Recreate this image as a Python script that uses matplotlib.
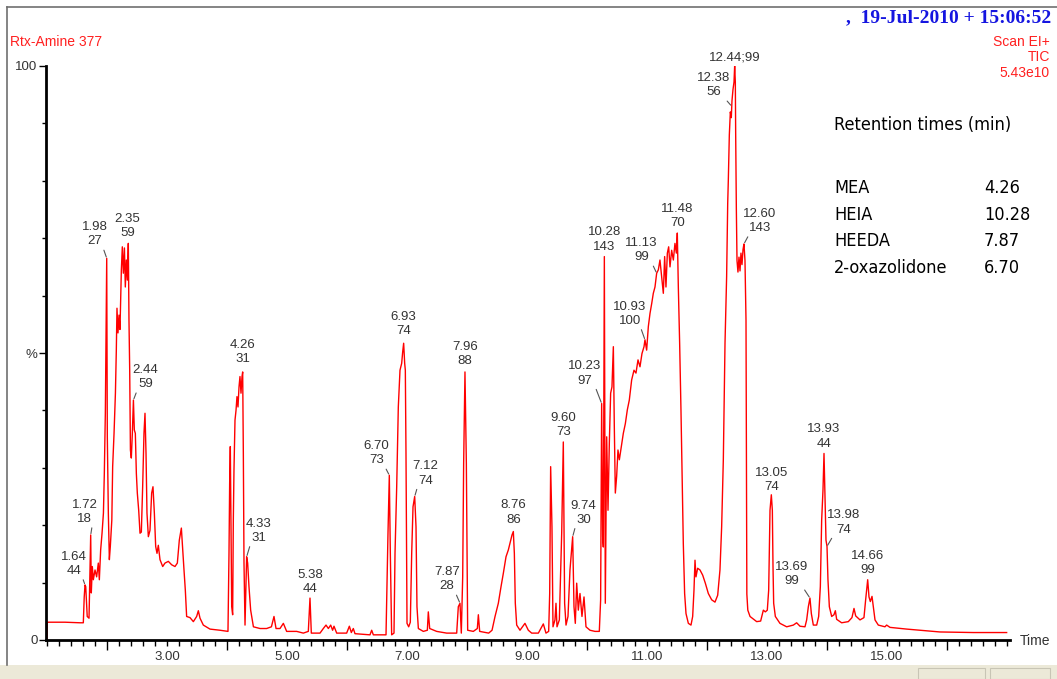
import matplotlib
matplotlib.use('Agg')
import matplotlib.pyplot as plt
from matplotlib import font_manager as fm
from matplotlib.ticker import MultipleLocator, FuncFormatter, NullFormatter, FixedLocator
from matplotlib.patches import Rectangle
from matplotlib.lines import Line2D

plt.rcParams['font.family'] = ['Liberation Sans', 'DejaVu Sans']

# TIC trace (time in min, relative abundance in %)
time_min = [
    1.00, 1.005, 1.30, 1.55, 1.605, 1.62, 1.633, 1.645, 1.67, 1.70, 1.717, 1.728, 1.738, 1.755,
    1.772, 1.80, 1.827, 1.855, 1.872, 1.894, 1.917, 1.94, 1.955, 1.972, 1.983, 1.995, 2.005,
    2.022, 2.039, 2.055, 2.08, 2.094, 2.117, 2.14, 2.155, 2.166, 2.183, 2.20, 2.216, 2.239,
    2.255, 2.272, 2.29, 2.305, 2.322, 2.339, 2.355, 2.366, 2.378, 2.39, 2.405, 2.422, 2.44,
    2.455, 2.472, 2.489, 2.505, 2.528, 2.55, 2.572, 2.594, 2.616, 2.633, 2.65, 2.666, 2.689,
    2.716, 2.744, 2.766, 2.789, 2.811, 2.833, 2.855, 2.883, 2.928, 2.966, 3.022, 3.078, 3.133,
    3.172, 3.205, 3.239, 3.261, 3.283, 3.305, 3.327, 3.383, 3.439, 3.494, 3.522, 3.55, 3.605,
    3.716, 3.883, 4.016, 4.033, 4.044, 4.055, 4.066, 4.078, 4.094, 4.105, 4.116, 4.133, 4.15,
    4.166, 4.183, 4.20, 4.216, 4.233, 4.25, 4.261, 4.272, 4.283, 4.30, 4.316, 4.327, 4.344,
    4.366, 4.394, 4.44, 4.55, 4.66, 4.74, 4.783, 4.817, 4.883, 4.939, 4.994, 5.161, 5.272,
    5.355, 5.383, 5.405, 5.55, 5.605, 5.65, 5.689, 5.728, 5.76, 5.783, 5.828, 5.994, 6.039,
    6.072, 6.105, 6.133, 6.383, 6.411, 6.439, 6.65, 6.683, 6.705, 6.722, 6.744, 6.783, 6.80,
    6.828, 6.855, 6.883, 6.911, 6.928, 6.944, 6.961, 6.972, 6.983, 7.00, 7.028, 7.055, 7.078,
    7.10, 7.128, 7.15, 7.166, 7.189, 7.272, 7.339, 7.355, 7.378, 7.494, 7.661, 7.828, 7.855,
    7.883, 7.905, 7.928, 7.944, 7.966, 7.989, 8.011, 8.105, 8.172, 8.189, 8.211, 8.361, 8.417,
    8.467, 8.522, 8.567, 8.605, 8.65, 8.689, 8.728, 8.75, 8.772, 8.789, 8.805, 8.828, 8.883,
    8.966, 9.022, 9.078, 9.189, 9.272, 9.316, 9.361, 9.378, 9.394, 9.416, 9.433, 9.466, 9.483,
    9.50, 9.539, 9.578, 9.605, 9.627, 9.65, 9.683, 9.716, 9.739, 9.761, 9.783, 9.805, 9.828,
    9.855, 9.883, 9.916, 9.95, 9.983, 10.05, 10.133, 10.205, 10.227, 10.244, 10.261, 10.272,
    10.289, 10.305, 10.328, 10.35, 10.372, 10.394, 10.416, 10.439, 10.455, 10.472, 10.494,
    10.516, 10.539, 10.572, 10.605, 10.639, 10.672, 10.705, 10.744, 10.783, 10.816, 10.85,
    10.883, 10.916, 10.95, 10.966, 10.994, 11.022, 11.05, 11.078, 11.105, 11.133, 11.161,
    11.189, 11.216, 11.244, 11.272, 11.294, 11.316, 11.339, 11.361, 11.383, 11.411, 11.439,
    11.466, 11.489, 11.505, 11.522, 11.544, 11.566, 11.583, 11.605, 11.627, 11.65, 11.689,
    11.733, 11.761, 11.783, 11.80, 11.816, 11.844, 11.883, 11.928, 11.972, 12.022, 12.078,
    12.133, 12.178, 12.216, 12.244, 12.272, 12.30, 12.327, 12.345, 12.355, 12.372, 12.389,
    12.405, 12.416, 12.433, 12.45, 12.461, 12.472, 12.478, 12.489, 12.50, 12.516, 12.533,
    12.55, 12.566, 12.583, 12.60, 12.616, 12.633, 12.65, 12.657, 12.664, 12.68, 12.717,
    12.828, 12.894, 12.939, 12.972, 13.005, 13.028, 13.05, 13.072, 13.089, 13.10, 13.111,
    13.139, 13.216, 13.328, 13.439, 13.494, 13.55, 13.633, 13.661, 13.689, 13.716, 13.739,
    13.772, 13.828, 13.861, 13.889, 13.911, 13.933, 13.95, 13.966, 13.983, 14.00, 14.016,
    14.039, 14.078, 14.116, 14.139, 14.161, 14.244, 14.355, 14.416, 14.45, 14.478, 14.55,
    14.616, 14.644, 14.678, 14.70, 14.722, 14.75, 14.772, 14.80, 14.855, 14.966, 14.994,
    15.05, 15.328, 15.661, 15.883, 16.439, 16.994,
]
abundance = [
    0.0, 3.1, 3.1, 3.0, 3.0, 7.5, 9.6, 9.3, 4.1, 3.8, 12.2, 18.3, 8.2, 12.8,
    10.5, 12.2, 11.0, 13.4, 10.5, 15.7, 18.6, 22.1, 29.0, 39.5, 52.8, 66.5, 35.4,
    22.1, 14.0, 16.3, 20.9, 30.2, 36.0, 43.0, 50.5, 57.8, 53.5, 56.6, 54.1, 64.5,
    68.5, 63.9, 68.3, 61.5, 66.2, 62.7, 69.1, 55.7, 47.0, 33.1, 31.7, 36.0, 41.8,
    36.6, 36.0, 29.0, 25.6, 22.6, 18.6, 18.8, 26.7, 36.0, 39.5, 32.5, 22.1, 18.0,
    19.1, 25.6, 26.7, 22.1, 16.3, 15.1, 16.5, 14.0, 12.8, 13.4, 13.7, 13.1, 12.8,
    13.4, 17.4, 19.5, 15.7, 12.2, 8.7, 4.1, 3.9, 3.2, 4.1, 5.1, 3.8, 2.6,
    1.9, 1.7, 1.5, 15.1, 27.3, 33.7, 20.9, 5.8, 4.4, 20.9, 29.6, 38.3, 40.0,
    42.4, 40.6, 44.1, 45.9, 43.0, 45.9, 46.7, 32.5, 13.4, 2.6, 9.3, 14.5, 13.4,
    9.3, 5.2, 2.3, 2.0, 2.0, 2.3, 4.1, 2.0, 2.0, 2.9, 1.5, 1.5, 1.2,
    1.5, 7.3, 1.2, 1.2, 2.0, 2.6, 2.0, 2.6, 1.7, 2.4, 1.2, 1.2, 2.4,
    1.3, 2.0, 1.1, 0.9, 1.7, 0.9, 0.9, 18.6, 28.7, 15.0, 0.9, 1.2, 15.1,
    26.7, 40.6, 47.0, 48.2, 50.2, 51.7, 48.2, 47.0, 32.5, 2.9, 2.3, 3.1, 15.1,
    23.2, 25.0, 19.7, 5.8, 2.0, 1.5, 1.7, 4.9, 2.0, 1.5, 1.2, 1.2, 5.8,
    6.4, 1.2, 11.0, 30.8, 46.7, 30.8, 1.7, 1.5, 2.0, 4.4, 1.5, 1.2, 1.7,
    4.1, 6.4, 9.3, 11.6, 14.5, 15.7, 17.4, 18.3, 18.9, 15.1, 6.4, 2.6, 1.7,
    2.9, 1.7, 1.2, 1.2, 2.8, 1.2, 1.5, 8.1, 30.2, 19.7, 2.3, 3.5, 6.4,
    2.3, 3.5, 18.6, 34.5, 6.4, 2.6, 4.1, 12.2, 15.1, 18.0, 5.8, 2.9, 9.9,
    5.2, 8.1, 4.1, 7.5, 2.3, 1.7, 1.5, 1.5, 7.0, 41.2, 18.0, 16.2,
    66.8, 6.4, 35.4, 22.6, 34.3, 43.0, 44.1, 51.1, 37.2, 25.6, 28.5,
    33.1, 31.4, 33.7, 36.0, 37.7, 40.1, 41.8, 45.3, 47.0, 46.5, 48.8,
    47.6, 49.9, 51.1, 52.3, 50.5, 54.6, 56.9, 58.6, 60.4, 61.5, 63.9,
    64.5, 66.2, 63.3, 60.4, 66.8, 61.5, 67.4, 68.5, 65.0, 67.9, 66.2,
    69.1, 67.4, 70.9, 61.5, 51.7, 40.1, 29.6, 16.8, 8.1, 4.6, 2.9,
    2.6, 4.1, 8.7, 13.9, 11.0, 12.5, 12.2, 11.3, 9.9, 8.1, 7.0,
    6.6, 7.8, 12.2, 19.7, 31.4, 51.7, 63.3, 76.1, 80.0, 88.0, 92.0,
    91.0, 93.9, 95.9, 97.2, 100.0, 97.2, 88.0, 75.1, 66.1, 64.1, 66.7,
    64.3, 67.4, 65.4, 68.0, 69.0, 66.1, 55.7, 30.0, 8.0, 5.2, 4.1,
    3.2, 3.3, 5.2, 4.9, 5.2, 8.7, 22.6, 25.3, 22.6, 12.8, 6.4,
    4.1, 2.9, 2.3, 2.6, 3.0, 2.4, 2.3, 3.5, 5.8, 7.3, 4.6,
    2.6, 2.6, 4.1, 9.3, 20.9, 26.1, 32.5, 25.0, 17.4, 16.3, 10.5,
    5.8, 4.1, 4.4, 5.1, 3.6, 3.0, 3.2, 3.9, 5.5, 4.2, 3.5,
    3.9, 7.0, 10.5, 7.5, 6.7, 7.6, 5.8, 3.5, 2.6, 2.3, 2.6,
    2.2, 1.9, 1.6, 1.4, 1.3, 1.3,
]

# peak labels: text, peak time, peak height
peak_text = ['1.64\n44', '1.72\n18', '1.98\n27', '2.35\n59', '2.44\n59', '4.26\n31', '4.33\n31',
             '5.38\n44', '6.70\n73', '6.93\n74', '7.12\n74', '7.87\n28', '7.96\n88', '8.76\n86',
             '9.60\n73', '9.74\n30', '10.23\n97', '10.28\n143', '10.93\n100', '11.13\n99',
             '11.48\n70', '12.38\n56', '12.44;99', '12.60\n143', '13.05\n74', '13.69\n99',
             '13.93\n44', '13.98\n74', '14.66\n99']
peak_t = [1.633, 1.728, 1.995, 2.355, 2.44, 4.261, 4.327, 5.383, 6.705, 6.944, 7.128, 7.883,
          7.966, 8.772, 9.605, 9.761, 10.244, 10.289, 10.966, 11.161, 11.505, 12.41, 12.461,
          12.616, 13.072, 13.716, 13.95, 14.00, 14.678]
peak_y = [9.6, 18.3, 66.5, 69.1, 41.8, 46.7, 14.5, 7.3, 28.7, 51.7, 25.0, 6.4, 46.7, 18.9,
          34.5, 18.0, 41.2, 66.8, 52.3, 63.9, 70.9, 93.0, 100.0, 69.0, 25.3, 7.3, 32.5, 16.3,
          10.5]
# label offset in pixels from the peak, and whether a leader line is drawn
label_dx = [-11, -6, -12, -1, 12, 0, 12, 0, -13, 0, 11, -13, 0, 0, 0, 11, -17, 0, -15, -15,
            0, -18, 0, 16, 0, -18, 0, 17, 0]
label_dy = [21, 23, 24, 17, 23, 20, 26, 16, 22, 19, 23, 24, 18, 19, 17, 24, 30, 17, 26, 23,
            17, 21, 9, 23, 15, 24, 17, 24, 17]
leader = [1, 1, 1, 0, 1, 0, 1, 0, 1, 0, 1, 1, 0, 0, 0, 1, 1, 0, 1, 1, 0, 1, 0, 1, 0, 1, 0, 1, 0]

compounds = ['MEA', 'HEIA', 'HEEDA', '2-oxazolidone']
ret_times = ['4.26', '10.28', '7.87', '6.70']

W, H = 1057, 679
fig = plt.figure(figsize=(W / 100, H / 100), dpi=100)

# window chrome: border lines and the beige status strip
fig.add_artist(Line2D([7 / W, 7 / W], [1 - 665 / H, 1 - 7 / H], color='#707070', lw=1.2))
fig.add_artist(Line2D([7 / W, 1], [1 - 7 / H, 1 - 7 / H], color='#707070', lw=1.2))
fig.add_artist(Rectangle((0, 0), 1, 14 / H, transform=fig.transFigure,
                         facecolor='#ECE9D8', edgecolor='none'))
for x0, x1 in [(918, 985), (990, 1050)]:
    fig.add_artist(Rectangle((x0 / W, 0), (x1 - x0) / W, 11 / H, transform=fig.transFigure,
                             facecolor='#ECE9D8', edgecolor='#C8C5B5', lw=0.8))

ax = fig.add_axes([46 / W, 39 / H, 964 / W, 574 / H])
ax.plot(time_min, abundance, color='#FF0000', lw=1.0)
ax.set_xlim(0.983, 17.05)
ax.set_ylim(0, 100)

for s in ['top', 'right']:
    ax.spines[s].set_visible(False)
ax.spines['left'].set_linewidth(2)
ax.spines['bottom'].set_linewidth(2)

ax.xaxis.set_major_locator(MultipleLocator(2))
ax.xaxis.set_major_formatter(NullFormatter())
ax.xaxis.set_minor_locator(MultipleLocator(0.2))


def odd_label(x, pos):
    n = round(x)
    if abs(x - n) < 1e-6 and n % 2 == 1 and 3 <= n <= 15:
        return f'{n:.2f}'
    return ''


ax.xaxis.set_minor_formatter(FuncFormatter(odd_label))
ax.tick_params(axis='x', which='major', length=7, width=1, direction='out')
ax.tick_params(axis='x', which='minor', length=4, width=1, direction='out', pad=4,
               labelsize=9.5, labelcolor='#333333')

ax.yaxis.set_major_locator(FixedLocator([0, 50, 100]))
ax.yaxis.set_major_formatter(FuncFormatter(lambda v, p: {0: '0', 50: '%', 100: '100'}[int(v)]))
ax.yaxis.set_minor_locator(FixedLocator([10, 20, 30, 40, 60, 70, 80, 90]))
ax.tick_params(axis='y', which='major', length=5, width=1, pad=1, labelsize=9.5,
               labelcolor='#333333')
ax.tick_params(axis='y', which='minor', length=3, width=1)

for txt, t, y, dx, dy, ld in zip(peak_text, peak_t, peak_y, label_dx, label_dy, leader):
    props = None
    if ld:
        rel = (0.8, 0.05) if dx < 0 else (0.2, 0.05)
        props = dict(arrowstyle='-', color='#555555', lw=0.8, shrinkA=0, shrinkB=1, relpos=rel)
    ax.annotate(txt, xy=(t, y), xytext=(dx, dy), textcoords='offset pixels', ha='center',
                va='center', multialignment='center', fontsize=9.5, color='#333333',
                linespacing=1.25, arrowprops=props, annotation_clip=False)

fig.text(1020 / W, 1 - 641 / H, 'Time', fontsize=10, color='#333333', va='center', ha='left')
fig.text(10 / W, 1 - 42 / H, 'Rtx-Amine 377', fontsize=10, color='#FF2020', va='center')
fig.text(1050 / W, 1 - 42 / H, 'Scan EI+', fontsize=10, color='#FF2020', va='center', ha='right')
fig.text(1050 / W, 1 - 57 / H, 'TIC', fontsize=10, color='#FF2020', va='center', ha='right')
fig.text(1050 / W, 1 - 73 / H, '5.43e10', fontsize=10, color='#FF2020', va='center', ha='right')
fig.text(1051 / W, 1 - 18 / H, ',  19-Jul-2010 + 15:06:52', fontsize=14, color='#1515E0',
         fontweight='bold', family='Liberation Serif', va='center', ha='right')

# retention-time table: use a condensed face if one is installed, then fit the title width
box_font = dict(family='DejaVu Sans')
cond = fm.FontProperties(family='DejaVu Sans', stretch='condensed')
if 'Condensed' in fm.findfont(cond, fallback_to_default=False):
    box_font['stretch'] = 'condensed'
title = fig.text(834 / W, 1 - 125 / H, 'Retention times (min)', fontsize=16, va='center',
                 ha='left', **box_font)
renderer = fig.canvas.get_renderer()
box_size = 16 * 178 / title.get_window_extent(renderer).width
title.set_fontsize(box_size)
for i, (c, r) in enumerate(zip(compounds, ret_times)):
    yy = 1 - (188 + 26.7 * i) / H
    fig.text(834 / W, yy, c, fontsize=box_size, va='center', ha='left', **box_font)
    fig.text(984 / W, yy, r, fontsize=box_size, va='center', ha='left', **box_font)

fig.savefig('out.png', dpi=100)
